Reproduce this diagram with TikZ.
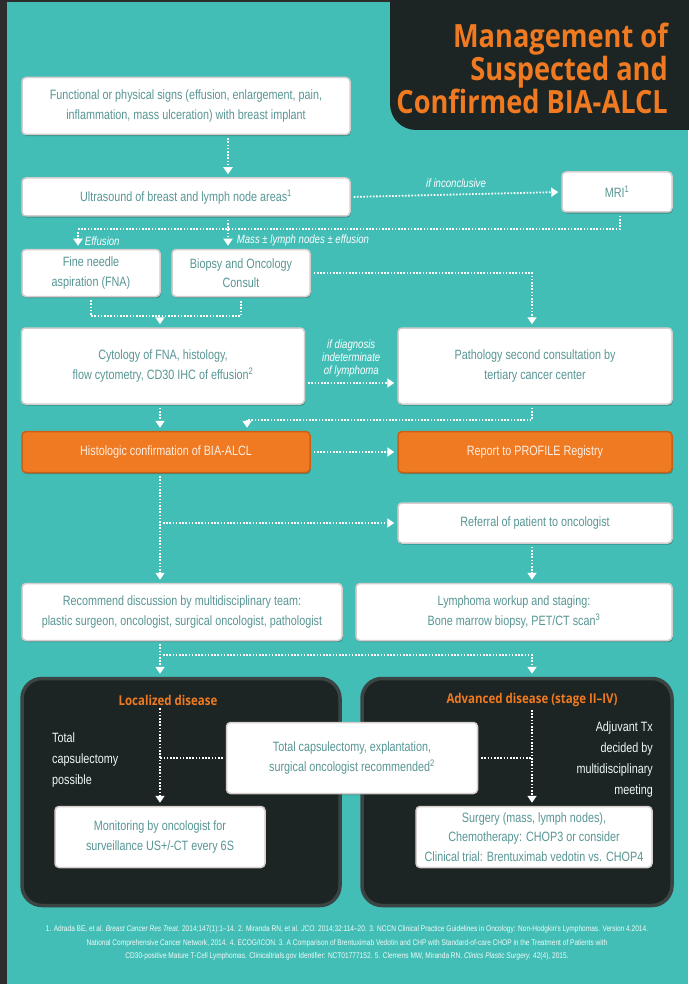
\documentclass[tikz,border=0pt]{standalone}
\usepackage{fontspec}
\setmainfont{Liberation Sans}
\newfontfamily\boxfont[FakeStretch=0.8]{Liberation Sans}
\newfontfamily\headfont[FakeStretch=0.85]{Open Sans}
\usetikzlibrary{arrows.meta,shadows}

\definecolor{tealbg}{RGB}{66,190,182}
\definecolor{darkbg}{RGB}{28,37,35}
\definecolor{darkedge}{RGB}{58,68,66}
\definecolor{orng}{RGB}{240,122,34}
\definecolor{orngedge}{RGB}{205,95,20}
\definecolor{boxtext}{RGB}{88,150,148}
\definecolor{boxedge}{RGB}{214,206,206}
\definecolor{framec}{RGB}{45,45,45}

\tikzset{
  wbox/.style={draw=boxedge, line width=1.5pt, fill=white, rounded corners=4pt,
    text=boxtext, font=\boxfont\fontsize{13.5}{19.5}\selectfont, align=center, inner sep=0pt,
    drop shadow={shadow xshift=0.8pt, shadow yshift=-1.6pt, fill=black, opacity=0.25}},
  obox/.style={wbox, fill=orng, draw=orngedge, text=white!88!orng},
  darkbox/.style={draw=darkedge, line width=3.5pt, fill=darkbg, rounded corners=20pt, inner sep=0pt},
  link/.style={white, line width=1.8pt, dash pattern=on 1.6pt off 1.6pt},
  flow/.style={link, shorten <=3pt, shorten >=3pt, -{Triangle[width=9pt,length=7pt]}},
  note/.style={white, font=\boxfont\itshape\fontsize{12}{13}\selectfont, inner sep=0pt},
  side/.style={white!90!tealbg, font=\boxfont\fontsize{13.5}{21}\selectfont, inner sep=0pt},
  head/.style={orng, font=\headfont\bfseries\fontsize{13.5}{15}\selectfont, inner sep=0pt}
}

\begin{document}
\begin{tikzpicture}[x=1pt, y=-1pt]
\useasboundingbox (0,0) rectangle (688,984);
\fill[framec] (0,0) rectangle (688,984);
\fill[tealbg] (7,2) rectangle (688,984);

% title panel
\fill[darkbg, rounded corners=26pt] (390,-40) rectangle (740,130);
\node[orng, font=\headfont\bfseries\fontsize{32}{33}\selectfont, align=right, anchor=base east, inner sep=0pt]
  (ttl) at (668,114) {Management of\\Suspected and\\Confirmed BIA-ALCL};

% column axes
\coordinate (xe) at (78,0);
\coordinate (xl) at (160,0);
\coordinate (xa) at (228,0);
\coordinate (xh) at (247,0);
\coordinate (xr) at (532,0);
\coordinate (xm) at (620,0);
\coordinate (jn1) at (0,229);
\coordinate (jn2) at (0,316);
\coordinate (jn3) at (0,420);
\coordinate (jn4) at (0,655);

% boxes
\node[wbox, minimum width=328pt, minimum height=57pt] (signs) at (186,106)
  {Functional or physical signs (effusion, enlargement, pain,\\inflammation, mass ulceration) with breast implant};
\node[wbox, minimum width=328pt, minimum height=38pt] (us) at (186,197)
  {Ultrasound of breast and lymph node areas\textsuperscript{1}};
\node[wbox, minimum width=110pt, minimum height=40pt] (mri) at (617,192) {MRI\textsuperscript{1}};
\node[wbox, minimum width=138pt, minimum height=47pt] (fna) at (91,273) {Fine needle\\aspiration (FNA)};
\node[wbox, minimum width=138pt, minimum height=47pt] (bio) at (241,273) {Biopsy and Oncology\\Consult};
\node[wbox, minimum width=283pt, minimum height=76pt] (cyto) at (163,366)
  {Cytology of FNA, histology,\\flow cytometry, CD30 IHC of effusion\textsuperscript{2}};
\node[wbox, minimum width=274pt, minimum height=76pt] (path) at (535,366)
  {Pathology second consultation by\\tertiary cancer center};
\node[obox, minimum width=288pt, minimum height=41pt] (hist) at (166,452) {Histologic confirmation of BIA-ALCL};
\node[obox, minimum width=274pt, minimum height=41pt] (rep) at (535,452) {Report to PROFILE Registry};
\node[wbox, minimum width=274pt, minimum height=40pt] (refer) at (535,523) {Referral of patient to oncologist};
\node[wbox, minimum width=320pt, minimum height=57pt] (recom) at (182,612)
  {Recommend discussion by multidisciplinary team:\\plastic surgeon, oncologist, surgical oncologist, pathologist};
\node[wbox, minimum width=316pt, minimum height=57pt] (lymph) at (514,612)
  {Lymphoma workup and staging:\\Bone marrow biopsy, PET/CT scan\textsuperscript{3}};

% disease panels
\node[darkbox, minimum width=318pt, minimum height=227pt] (loc) at (181,792) {};
\node[darkbox, minimum width=310pt, minimum height=227pt] (adv) at (517,792) {};
\node[head] (loctitle) at (168,700) {Localized disease};
\node[head] (advtitle) at (532,700) {Advanced disease (stage II–IV)};
\node[wbox, minimum width=251pt, minimum height=71pt] (caps) at (352,758)
  {Total capsulectomy, explantation,\\surgical oncologist recommended\textsuperscript{2}};
\node[wbox, minimum width=210pt, minimum height=61pt] (mon) at (160,837)
  {Monitoring by oncologist for\\surveillance US+/-CT every 6S};
\node[wbox, minimum width=236pt, minimum height=61pt] (surg) at (534,837)
  {Surgery (mass, lymph nodes),\\Chemotherapy: CHOP3 or consider\\Clinical trial: Brentuximab vedotin vs. CHOP4};
\node[side, align=left, anchor=base west] (capnote) at (52,784) {Total\\capsulectomy\\possible};
\node[side, align=right, anchor=base east] (adjnote) at (653,794) {Adjuvant Tx\\decided by\\multidisciplinary\\meeting};

% connectors
\draw[flow] (signs.south -| xa) -- (us.north -| xa);
\draw[flow] (us.east) -- node[note, above=6pt] {if inconclusive} (mri.west);
\draw[link] ([yshift=-3pt]mri.south -| xm) -- (jn1 -| xm) -- (jn1 -| xe);
\draw[flow] (jn1 -| xe) -- node[note, right=6pt, pos=0.6] {Effusion} (fna.north -| xe);
\draw[flow] (us.south -| xa) -- node[note, right=8pt, pos=0.75] {Mass ± lymph nodes ± effusion} (bio.north -| xa);
\draw[flow] (bio.east) -- (bio.east -| xr) -- (path.north -| xr);
\draw[link] ([yshift=-3pt]fna.south) -- (fna.south |- jn2) -- (bio.south |- jn2) -- ([yshift=-3pt]bio.south);
\draw[flow] (jn2 -| xl) -- (cyto.north -| xl);
\draw[flow] ([yshift=-17pt]cyto.east) -- node[note, above=5pt, align=center] {if diagnosis\\indeterminate\\of lymphoma} ([yshift=-17pt]path.west);
\draw[flow] (cyto.south -| xl) -- (hist.north -| xl);
\draw[flow] (path.south -| xr) -- (jn3 -| xr) -- (jn3 -| xh) -- (hist.north -| xh);
\draw[flow] (hist.east) -- (rep.west);
\draw[flow] (hist.south -| xl) -- (recom.north -| xl);
\draw[flow] (refer.west -| xl) -- (refer.west);
\draw[flow] (refer.south -| xr) -- (lymph.north -| xr);
\draw[flow] (recom.south -| xl) -- (loc.north -| xl);
\draw[flow] (jn4 -| xl) -- (jn4 -| xr) -- (adv.north -| xr);
\draw[flow] (loctitle.south -| xl) -- (mon.north -| xl);
\draw[flow] (advtitle.south -| xr) -- (surg.north -| xr);
\draw[link] ([xshift=-3pt]caps.west) -- (caps.west -| xl);
\draw[link] ([xshift=3pt]caps.east) -- (caps.east -| xr);

% references
\node[white!92!tealbg, font=\boxfont\fontsize{8.2}{13.5}\selectfont, align=center] (refs) at (347,943)
  {1. Adrada BE, et al. \textit{Breast Cancer Res Treat.} 2014;147(1):1–14. 2. Miranda RN, et al. \textit{JCO.} 2014;32:114–20. 3. NCCN Clinical Practice Guidelines in Oncology: Non-Hodgkin's Lymphomas. Version 4.2014.\\
   National Comprehensive Cancer Network, 2014. 4. ECOG/ICON. 3. A Comparison of Brentuximab Vedotin and CHP with Standard-of-care CHOP in the Treatment of Patients with\\
   CD30-positive Mature T-Cell Lymphomas. Clinicaltrials.gov Identifier: NCT01777152. 5. Clemens MW, Miranda RN. \textit{Clinics Plastic Surgery.} 42(4), 2015.};
\end{tikzpicture}
\end{document}
